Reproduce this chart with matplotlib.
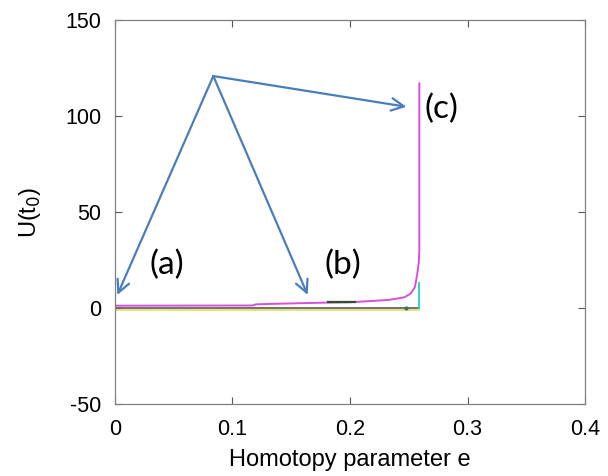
import matplotlib
matplotlib.use("Agg")
import matplotlib.pyplot as plt

# Homotopy continuation path: U(t0) versus parameter e
e_path = [0.000, 0.117, 0.120, 0.137, 0.180, 0.200, 0.217, 0.233, 0.246,
          0.2517, 0.2553, 0.2573, 0.2585, 0.2590, 0.2590]
u_path = [1.2, 1.3, 1.9, 2.2, 2.8, 3.0, 3.6, 4.2, 5.5,
          7.5, 11.0, 18.0, 23.5, 30.0, 117.0]

# short dark segment lying on the path
e_seg = [0.181, 0.204]
u_seg = [2.9, 2.9]

# branches near zero
e_zero = [0.0, 0.2590]
u_zero = [0.0, 0.0]
e_yellow = [0.0, 0.2590]
u_yellow = [-0.8, -0.8]
e_cyan = [0.2587, 0.2587]
u_cyan = [0.0, 13.0]
e_dot = [0.248]
u_dot = [0.0]

# callouts
callout_origin = (0.0837, 120.8)
callout_tips = [(0.002, 6.8), (0.164, 6.8), (0.248, 104.8)]
callout_labels = ["(a)", "(b)", "(c)"]
callout_label_pos = [(0.044, 22.4), (0.194, 22.4), (0.278, 103.6)]

x_ticks = [0, 0.1, 0.2, 0.3, 0.4]
x_tick_labels = ["0", "0.1", "0.2", "0.3", "0.4"]
y_ticks = [-50, 0, 50, 100, 150]

plt.rcParams["font.family"] = ["Liberation Sans", "DejaVu Sans"]
plt.rcParams["axes.unicode_minus"] = False

fig = plt.figure(figsize=(6.08, 4.76), dpi=100)
ax = fig.add_axes([0.1891, 0.1513, 0.9622 - 0.1891, 0.958 - 0.1513])

ax.plot(e_yellow, u_yellow, color="#e6df6e", lw=1.3)
ax.plot(e_zero, u_zero, color="#666666", lw=1.3)
ax.plot(e_cyan, u_cyan, color="#2fd1d1", lw=1.4)
ax.plot(e_path, u_path, color="#d94fd9", lw=1.4)
ax.plot(e_seg, u_seg, color="#2f4f2f", lw=1.6)
ax.plot(e_dot, u_dot, "o", color="#2e7d5a", ms=2)

blue = "#4a7ebb"
for tip in callout_tips:
    ax.annotate("", xy=tip, xytext=callout_origin,
                arrowprops=dict(arrowstyle="->,head_length=0.9,head_width=0.45",
                                color=blue, lw=1.6, shrinkA=0, shrinkB=0))
for lab, pos in zip(callout_labels, callout_label_pos):
    ax.text(pos[0], pos[1], lab, ha="center", va="center",
            fontsize=24, family=["Lato", "DejaVu Sans"], color="black")

ax.set_xlim(0, 0.4)
ax.set_ylim(-50, 150)
ax.set_xticks(x_ticks)
ax.set_xticklabels(x_tick_labels)
ax.set_yticks(y_ticks)
ax.tick_params(direction="in", top=True, right=True, length=5, width=0.8,
               color="#555555", labelsize=15.5)
ax.tick_params(axis="x", pad=11)
ax.tick_params(axis="y", pad=10)
for s in ax.spines.values():
    s.set_color("#808080")
    s.set_linewidth(0.9)

ax.set_xlabel("Homotopy parameter e", fontsize=17, labelpad=6)
ax.set_ylabel(r"U(t$_0$)", fontsize=17, labelpad=16)

fig.savefig("out.png", dpi=100)
